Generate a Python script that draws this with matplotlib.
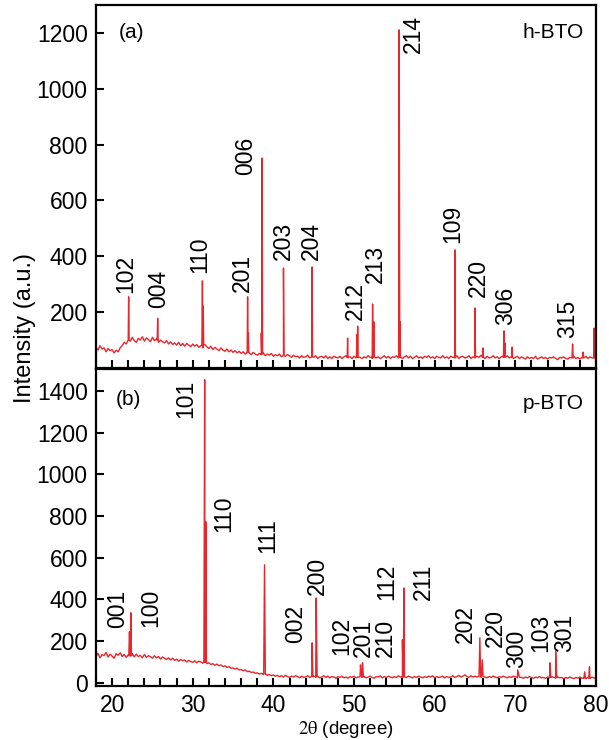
import matplotlib
matplotlib.use("Agg")
import matplotlib.pyplot as plt
import numpy as np

plt.rcParams['font.family'] = ['Liberation Sans', 'DejaVu Sans']
plt.rcParams['mathtext.fontset'] = 'stix'

# background of the patterns, read every 0.25 degree from 18 to 80
# (one row = one degree)
bg_x = np.linspace(18.0, 80.0, 249)

top_bg = [76, 64, 80, 68,  72, 58, 70, 62,  66, 54, 64, 58,  72, 80, 92, 86,
          104, 96, 110, 98,  92, 106, 100, 112,  96, 108, 102, 94,  110, 98, 104, 92,
          100, 94, 90, 98,  86, 94, 84, 90,  82, 92, 80, 88,  78, 88, 82, 76,
          86, 78, 84, 74,  80, 72, 84, 76,  70, 78, 66, 74,  68, 62, 72, 64,
          60, 68, 58, 64,  56, 62, 54, 60,  52, 58, 50, 56,  54, 48, 56, 50,
          46, 52, 48, 54,  44, 50, 46, 52,  42, 48, 44, 50,  40, 46, 42, 48,
          44, 38, 46, 40,  42, 36, 44, 38,  40, 46, 36, 42,  38, 44, 34, 40,
          42, 36, 44, 34,  40, 34, 42, 38,  36, 42, 34, 40,  44, 36, 40, 34,
          42, 36, 44, 38,  34, 40, 36, 44,  38, 34, 42, 36,  40, 34, 38, 44,
          36, 42, 34, 40,  38, 44, 36, 42,  34, 40, 44, 36,  42, 34, 38, 44,
          36, 40, 34, 42,  38, 44, 36, 40,  34, 42, 38, 36,  44, 36, 40, 34,
          42, 38, 36, 44,  34, 40, 42, 36,  38, 44, 34, 40,  36, 42, 38, 46,
          40, 34, 42, 36,  38, 44, 36, 40,  34, 40, 42, 38,  44, 36, 40, 34,
          38, 42, 34, 40,  36, 32, 40, 34,  38, 34, 42, 32,  36, 40, 34, 38,
          32, 38, 36, 40,  34, 30, 38, 36,  40, 34, 32, 38,  36, 42, 34, 38,
          32, 38, 36, 42,  34, 40, 36, 38,  36]

bot_bg = [126, 142, 120, 136,  130, 146, 124, 138,  128, 118, 140, 132,  144, 126, 136, 122,
          134, 128, 140, 124,  138, 126, 132, 120,  136, 122, 130, 126,  118, 130, 120, 126,
          114, 124, 118, 112,  120, 110, 118, 108,  114, 104, 112, 106,  110, 100, 108, 102,
          98, 106, 96, 104,  100, 94, 98, 92,  96, 88, 92, 84,  90, 82, 86, 78,
          82, 74, 78, 70,  72, 66, 70, 62,  64, 58, 62, 54,  56, 50, 52, 46,
          48, 42, 46, 40,  42, 36, 40, 34,  38, 32, 36, 30,  34, 28, 36, 30,
          26, 32, 28, 34,  30, 24, 32, 26,  28, 34, 26, 30,  32, 26, 30, 24,
          28, 34, 26, 32,  24, 30, 28, 22,  30, 26, 32, 24,  28, 22, 30, 26,
          32, 24, 28, 34,  26, 30, 24, 28,  32, 26, 22, 30,  28, 34, 24, 30,
          26, 32, 28, 24,  30, 26, 34, 28,  24, 30, 26, 32,  28, 24, 30, 26,
          32, 28, 24, 30,  26, 32, 28, 34,  24, 30, 26, 28,  32, 24, 30, 26,
          28, 34, 26, 30,  36, 28, 32, 38,  30, 26, 34, 28,  32, 28, 30, 26,
          34, 28, 24, 30,  26, 32, 28, 24,  30, 26, 32, 28,  24, 30, 26, 32,
          28, 24, 30, 26,  22, 28, 24, 30,  26, 22, 28, 24,  30, 24, 26, 22,
          28, 24, 30, 26,  22, 28, 24, 26,  20, 26, 22, 28,  24, 20, 26, 22,
          28, 22, 24, 20,  26, 22, 28, 24,  20]

# peaks: position, top, foot level, half width
top_pk_pos = [22.05, 25.65, 31.2, 31.3, 36.8, 36.9, 38.5, 38.6, 41.25, 44.8,
              49.2, 50.35, 50.45, 52.3, 52.45, 55.6, 55.72, 62.5, 65.0, 66.0,
              68.6, 68.7, 69.6, 77.1, 78.4, 79.75]
top_pk_hgt = [255, 178, 312, 222, 255, 125, 125, 752, 358, 362,
              107, 120, 150, 229, 165, 1211, 165, 423, 215, 72,
              133, 90, 75, 86, 57, 143]
top_pk_foot = [100, 100, 82, 82, 55, 55, 50, 50, 44, 40,
               38, 38, 38, 38, 38, 38, 38, 38, 38, 38,
               38, 38, 38, 36, 36, 36]
top_pk_w = [0.06, 0.06, 0.07, 0.06, 0.06, 0.05, 0.05, 0.06, 0.06, 0.06,
            0.05, 0.05, 0.06, 0.06, 0.05, 0.07, 0.06, 0.07, 0.06, 0.05,
            0.08, 0.06, 0.06, 0.07, 0.06, 0.05]

bot_pk_pos = [22.15, 22.32, 31.48, 31.62, 38.9, 44.8, 45.3, 50.8, 51.05,
              56.0, 56.2, 65.6, 65.9, 70.3, 74.3, 75.0, 78.6, 79.2]
bot_pk_hgt = [245, 336, 1453, 772, 566, 192, 407, 86, 96,
              206, 455, 216, 110, 62, 96, 149, 53, 77]
bot_pk_foot = [130, 130, 100, 100, 44, 30, 30, 28, 28,
               28, 28, 30, 30, 28, 26, 26, 22, 22]
bot_pk_w = [0.08, 0.08, 0.1, 0.07, 0.1, 0.1, 0.12, 0.12, 0.12,
            0.08, 0.1, 0.1, 0.1, 0.2, 0.1, 0.14, 0.1, 0.1]

# reflection labels: text, x, y of the text start
top_lab = ['102', '004', '110', '201', '006', '203', '204', '212', '213',
           '214', '109', '220', '306', '315']
top_lab_x = [21.7, 25.8, 30.9, 36.2, 36.5, 41.25, 44.7, 50.2, 52.6,
             57.3, 62.3, 65.4, 68.8, 76.5]
top_lab_y = [269, 215, 340, 272, 692, 387, 387, 172, 305,
             1129, 448, 254, 154, 108]

bot_lab = ['001', '100', '101', '110', '111', '002', '200', '102', '201',
           '210', '112', '211', '202', '220', '300', '103', '301']
bot_lab_x = [20.7, 24.8, 29.1, 33.8, 39.3, 42.7, 45.4, 48.5, 51.1,
             53.9, 54.1, 58.6, 63.8, 67.5, 70.2, 73.2, 76.1]
bot_lab_y = [264, 268, 1270, 724, 623, 192, 422, 134, 125,
             125, 398, 398, 192, 173, 72, 149, 149]

assert len(top_bg) == len(bg_x) and len(bot_bg) == len(bg_x)


def pattern(bg, pos, hgt, foot, w):
    xs = list(bg_x)
    ys = list(bg)
    for p, h, f, hw in zip(pos, hgt, foot, w):
        xs += [p - hw, p, p + hw]
        ys += [f, h, f]
    order = np.argsort(xs, kind='stable')
    return np.array(xs)[order], np.array(ys)[order]


fig = plt.figure(figsize=(6.09, 7.40), dpi=100)
ax1 = fig.add_axes([0.1576, 0.5027, 0.821, 0.4905])
ax2 = fig.add_axes([0.1576, 0.073, 0.821, 0.4284])

red = '#e8262c'
x1, y1 = pattern(top_bg, top_pk_pos, top_pk_hgt, top_pk_foot, top_pk_w)
x2, y2 = pattern(bot_bg, bot_pk_pos, bot_pk_hgt, bot_pk_foot, bot_pk_w)
ax1.plot(x1, y1, color=red, lw=1.0)
ax2.plot(x2, y2, color=red, lw=1.0)

for t, x, y in zip(top_lab, top_lab_x, top_lab_y):
    ax1.text(x, y, t, rotation=90, ha='center', va='bottom', fontsize=16.5)
for t, x, y in zip(bot_lab, bot_lab_x, bot_lab_y):
    ax2.text(x, y, t, rotation=90, ha='center', va='bottom', fontsize=16.5)

ax1.set_ylim(0, 1300)
ax2.set_ylim(-15, 1505)
ax1.set_yticks([200, 400, 600, 800, 1000, 1200])
ax2.set_yticks([0, 200, 400, 600, 800, 1000, 1200, 1400])

for ax in (ax1, ax2):
    ax.set_xlim(18, 80)
    ax.set_xticks([20, 30, 40, 50, 60, 70, 80])
    ax.set_xticks(np.arange(18, 81, 2), minor=True)
    ax.tick_params(axis='x', which='both', direction='in', length=6, width=1.5,
                   labelsize=16.5, pad=6)
    ax.tick_params(axis='y', direction='in', length=6, width=1.5, labelsize=16.5, pad=6)
    for s in ax.spines.values():
        s.set_linewidth(1.6)
ax1.tick_params(axis='x', which='both', labelbottom=False)

ax1.text(0.045, 0.925, '(a)', transform=ax1.transAxes, fontsize=15, va='center')
ax1.text(0.975, 0.925, 'h-BTO', transform=ax1.transAxes, fontsize=15,
         va='center', ha='right')
ax2.text(0.04, 0.905, '(b)', transform=ax2.transAxes, fontsize=15, va='center')
ax2.text(0.975, 0.89, 'p-BTO', transform=ax2.transAxes, fontsize=15,
         va='center', ha='right')

ax2.set_xlabel(r'$\mathrm{2\theta}$ (degree)', fontsize=13.5, labelpad=1)
fig.text(0.041, 0.557, 'Intensity (a.u.)', rotation=90, fontsize=17,
         ha='center', va='center')

fig.savefig('out.png', dpi=100)
